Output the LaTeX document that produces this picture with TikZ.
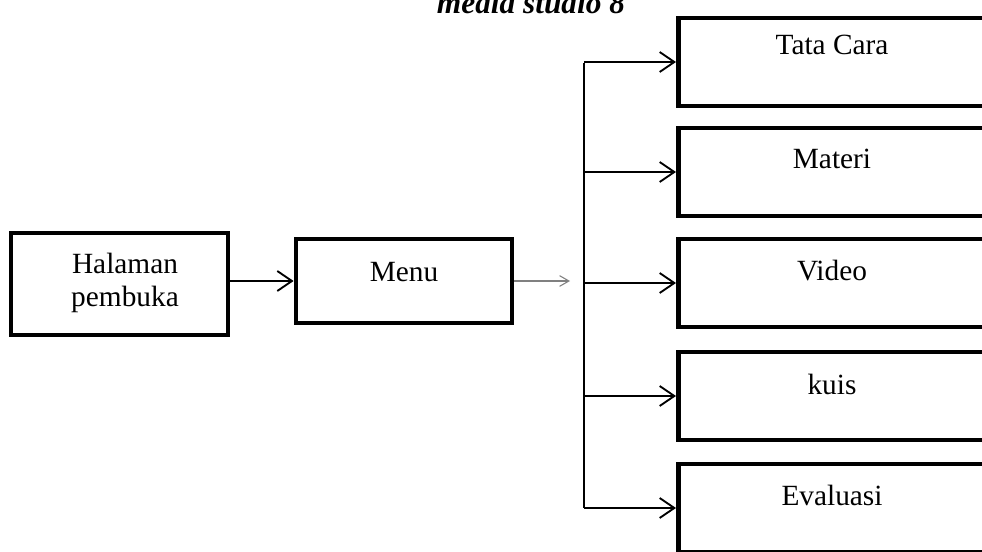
\documentclass[tikz,border=0pt]{standalone}
\usepackage{fontspec}
\setmainfont{Liberation Serif}
\usetikzlibrary{arrows.meta}
\begin{document}
\begin{tikzpicture}[x=0.75pt,y=-0.75pt,
  box/.style={draw=black,line width=3.6pt,fill=white,inner sep=0pt},
  label/.style={font=\fontsize{22}{24.5}\selectfont,align=center,inner sep=0pt},
  link/.style={line width=1pt,-{Straight Barb[length=11pt,width=15pt,line width=1.4pt]}},
  thinlink/.style={draw=gray,line width=0.8pt,-{Straight Barb[length=7pt,width=8pt,line width=0.8pt]}},
  trunk/.style={line width=1pt}]
\useasboundingbox (0,0) rectangle (982,552);
\clip (0,0) rectangle (982,552);

% title line, partly above the page edge
\node[font=\fontsize{23.5}{27}\selectfont\bfseries\itshape,anchor=base,inner sep=0pt] (title) at (531,14) {media studio 8};

% left boxes
\node[box,minimum width=217*0.75pt,minimum height=102*0.75pt] (start) at (119.5,284) {};
\node[label] (starttext) at (125,283) {Halaman\\pembuka};
\node[box,minimum width=216*0.75pt,minimum height=84*0.75pt] (menu) at (404,281) {};
\node[label,anchor=base] (menutext) at (404,282) {Menu};

% right column of boxes, running past the page edge (centre y / text baseline)
\foreach \n/\y/\b/\t in {tata/62/55/Tata Cara, materi/172/169/Materi, video/283/281/Video, kuis/396/394/kuis, eval/508/505/Evaluasi}{
  \node[box,minimum width=330*0.75pt,minimum height=88*0.75pt,anchor=west] (\n) at (676,\y) {};
  \node[label,anchor=base] (\n text) at (832,\b) {\t};
}

% connectors
\draw[link] (start.east |- menu.west) -- (menu.west);
\coordinate (menuout) at (570,281);
\draw[thinlink] (menu.east) -- (menuout);

\coordinate (ttop) at (584,63);
\coordinate (tbot) at (584,508);
\draw[trunk] (ttop) -- (tbot);
\foreach \n in {tata,materi,video,kuis,eval}{
  \draw[link] (584,0 |- \n.west) -- (\n.west);
}
\end{tikzpicture}
\end{document}
